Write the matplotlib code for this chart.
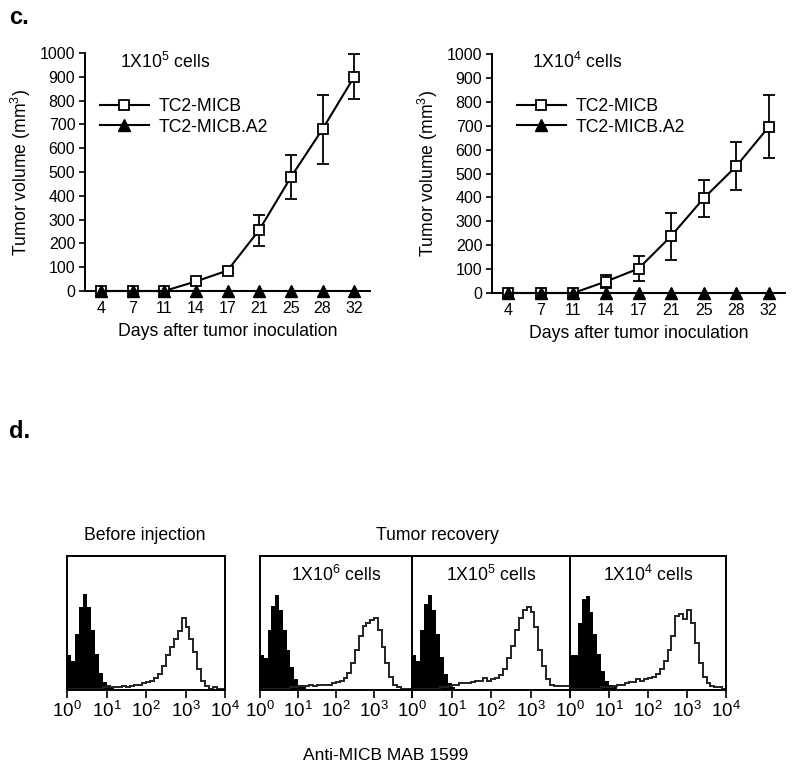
import numpy as np
import matplotlib
matplotlib.use("Agg")
import matplotlib.pyplot as plt
from matplotlib.lines import Line2D

plt.rcParams["font.family"] = ["Liberation Sans", "DejaVu Sans"]
plt.rcParams["mathtext.fontset"] = "custom"
plt.rcParams["mathtext.rm"] = "Liberation Sans"
plt.rcParams["mathtext.it"] = "Liberation Sans"
plt.rcParams["mathtext.bf"] = "Liberation Sans:bold"

# ---- panel c data ----
days = ["4", "7", "11", "14", "17", "21", "25", "28", "32"]

micb_1e5 = [0, 0, 0, 40, 86, 256, 478, 680, 900]
micb_1e5_err = [0, 0, 0, 6, 12, 65, 93, 145, 95]
a2_1e5 = [0, 0, 0, 0, 0, 0, 0, 0, 0]

micb_1e4 = [0, 0, 0, 48, 102, 238, 396, 530, 695]
micb_1e4_err = [0, 0, 0, 27, 52, 98, 78, 100, 132]
a2_1e4 = [0, 0, 0, 0, 0, 0, 0, 0, 0]

# ---- panel d data (histogram heights, fraction of panel height, 0.1-decade bins) ----
log_edges = np.arange(0, 4.05, 0.1)

before_ctrl = [0.26, 0.22, 0.42, 0.62, 0.72, 0.62, 0.45, 0.27, 0.13, 0.06,
               0.03, 0.02, 0.01, 0, 0, 0, 0, 0, 0, 0,
               0, 0, 0, 0, 0, 0, 0, 0, 0, 0,
               0, 0, 0, 0, 0, 0, 0, 0, 0, 0]
before_micb = [0.01, 0.01, 0.01, 0.01, 0.01, 0.01, 0.01, 0.01, 0.01, 0.02,
               0.03, 0.02, 0.02, 0.02, 0.03, 0.02, 0.03, 0.04, 0.04, 0.05,
               0.06, 0.07, 0.09, 0.12, 0.18, 0.26, 0.32, 0.38, 0.44, 0.54,
               0.47, 0.38, 0.28, 0.16, 0.07, 0.03, 0.01, 0.02, 0.01, 0.01]

e6_ctrl = [0.26, 0.24, 0.45, 0.63, 0.71, 0.60, 0.45, 0.30, 0.17, 0.08,
           0.04, 0.02, 0.01, 0, 0, 0, 0, 0, 0, 0,
           0, 0, 0, 0, 0, 0, 0, 0, 0, 0,
           0, 0, 0, 0, 0, 0, 0, 0, 0, 0]
e6_micb = [0.01, 0.01, 0.01, 0.01, 0.01, 0.01, 0.01, 0.01, 0.02, 0.02,
           0.03, 0.03, 0.03, 0.04, 0.03, 0.04, 0.04, 0.04, 0.04, 0.05,
           0.06, 0.07, 0.09, 0.13, 0.20, 0.30, 0.40, 0.48, 0.50, 0.52,
           0.54, 0.45, 0.32, 0.20, 0.10, 0.04, 0.02, 0.01, 0.01, 0.01]

e5_ctrl = [0.26, 0.22, 0.45, 0.64, 0.71, 0.60, 0.42, 0.25, 0.12, 0.05,
           0.02, 0.01, 0, 0, 0, 0, 0, 0, 0, 0,
           0, 0, 0, 0, 0, 0, 0, 0, 0, 0,
           0, 0, 0, 0, 0, 0, 0, 0, 0, 0]
e5_micb = [0.01, 0.01, 0.01, 0.01, 0.01, 0.01, 0.01, 0.02, 0.02, 0.03,
           0.04, 0.04, 0.05, 0.05, 0.05, 0.06, 0.07, 0.07, 0.09, 0.07,
           0.08, 0.09, 0.11, 0.16, 0.24, 0.33, 0.45, 0.54, 0.60, 0.62,
           0.58, 0.47, 0.30, 0.18, 0.08, 0.04, 0.03, 0.03, 0.03, 0.03]

e4_ctrl = [0.26, 0.26, 0.50, 0.68, 0.70, 0.58, 0.42, 0.27, 0.14, 0.07,
           0.04, 0.02, 0.01, 0, 0, 0, 0, 0, 0, 0,
           0, 0, 0, 0, 0, 0, 0, 0, 0, 0,
           0, 0, 0, 0, 0, 0, 0, 0, 0, 0]
e4_micb = [0.01, 0.01, 0.01, 0.01, 0.01, 0.01, 0.01, 0.01, 0.02, 0.02,
           0.02, 0.03, 0.04, 0.04, 0.05, 0.06, 0.06, 0.08, 0.07, 0.08,
           0.09, 0.10, 0.12, 0.16, 0.22, 0.30, 0.40, 0.55, 0.57, 0.53,
           0.60, 0.50, 0.35, 0.20, 0.10, 0.05, 0.03, 0.02, 0.02, 0.01]

flow_ticks = [1, 10, 100, 1000, 10000]
flow_labels = ["$10^0$", "$10^1$", "$10^2$", "$10^3$", "$10^4$"]

W, H = 800, 772
fig = plt.figure(figsize=(W / 100, H / 100), dpi=100)
FS = 12.7


def px_axes(x0, y0, x1, y1):
    return fig.add_axes([x0 / W, 1 - y1 / H, (x1 - x0) / W, (y1 - y0) / H])


def growth_panel(box, micb, err, a2, title, title_xy, leg_xy):
    ax = px_axes(*box)
    x = np.arange(len(days))
    ax.errorbar(x, micb, yerr=err, fmt="s-", color="black", mfc="white",
                mec="black", ms=7.5, mew=1.3, lw=1.5, capsize=4.5, elinewidth=1.3,
                capthick=1.3, clip_on=False, zorder=3)
    ax.plot(x, a2, "^-", color="black", ms=8, lw=1.5, clip_on=False, zorder=4)
    ax.set_xlim(-0.5, 8.5)
    ax.set_ylim(0, 1000)
    ax.set_xticks(x)
    ax.set_xticklabels(days)
    ax.set_yticks(range(0, 1001, 100))
    for s in ["top", "right"]:
        ax.spines[s].set_visible(False)
    for s in ["left", "bottom"]:
        ax.spines[s].set_linewidth(1.4)
    ax.tick_params(labelsize=11.5, length=4, width=1.2, direction="out", pad=3)
    ax.set_ylabel("Tumor volume (mm$^3$)", fontsize=FS, labelpad=5)
    ax.set_xlabel("Days after tumor inoculation", fontsize=FS, labelpad=5)
    fig.text(title_xy[0] / W, 1 - title_xy[1] / H, title, fontsize=FS,
             va="center", ha="left")
    handles = [
        Line2D([], [], color="black", lw=1.5, marker="s", ms=7.5, mfc="white", mew=1.3),
        Line2D([], [], color="black", lw=1.5, marker="^", ms=8),
    ]
    ax.legend(handles, ["TC2-MICB", "TC2-MICB.A2"], loc="upper left",
              bbox_to_anchor=(leg_xy[0] / W, 1 - leg_xy[1] / H),
              bbox_transform=fig.transFigure, frameon=False, fontsize=FS,
              handlelength=2.75, handletextpad=0.55, labelspacing=0.2,
              borderpad=0, borderaxespad=0)
    return ax


growth_panel((85, 53, 370, 291), micb_1e5, micb_1e5_err, a2_1e5,
             "1X10$^5$ cells", (120, 62), (100, 98))
growth_panel((492, 54, 785, 293), micb_1e4, micb_1e4_err, a2_1e4,
             "1X10$^4$ cells", (532, 62), (517, 98))

fig.text(9 / W, 1 - 18 / H, "c.", fontsize=17, fontweight="bold", va="center")
fig.text(9 / W, 1 - 432 / H, "d.", fontsize=17, fontweight="bold", va="center")

# ---- panel d ----
edges = 10 ** log_edges
panels = [
    ((67, 556, 225, 690), before_ctrl, before_micb, None, True),
    ((260, 556, 412, 690), e6_ctrl, e6_micb, "1X10$^6$ cells", False),
    ((412, 556, 570, 690), e5_ctrl, e5_micb, "1X10$^5$ cells", False),
    ((570, 556, 726, 690), e4_ctrl, e4_micb, "1X10$^4$ cells", True),
]
for box, ctrl, micb, label, last_label in panels:
    ax = px_axes(*box)
    ax.stairs(ctrl, edges, fill=True, color="black")
    ax.stairs(micb, edges, color="#222222", lw=1.4)
    ax.set_xscale("log")
    ax.set_xlim(1, 1e4)
    ax.set_ylim(0, 1)
    ax.set_yticks([])
    ax.set_xticks(flow_ticks)
    ax.set_xticklabels(flow_labels if last_label else flow_labels[:4] + [""])
    for s in ax.spines.values():
        s.set_linewidth(1.4)
    ax.tick_params(axis="x", which="major", labelsize=13.5, length=6, width=1.2,
                   direction="out", pad=2)
    ax.tick_params(axis="x", which="minor", length=3, width=0.9, direction="out")
    if label:
        ax.text(0.5, 0.86, label, transform=ax.transAxes, ha="center",
                va="center", fontsize=FS)

fig.text(145 / W, 1 - 535 / H, "Before injection", fontsize=FS, ha="center", va="center")
fig.text(437 / W, 1 - 535 / H, "Tumor recovery", fontsize=FS, ha="center", va="center")
fig.text(386 / W, 1 - 755 / H, "Anti-MICB MAB 1599", fontsize=12.5, ha="center", va="center")

fig.savefig("out.png", dpi=100)
